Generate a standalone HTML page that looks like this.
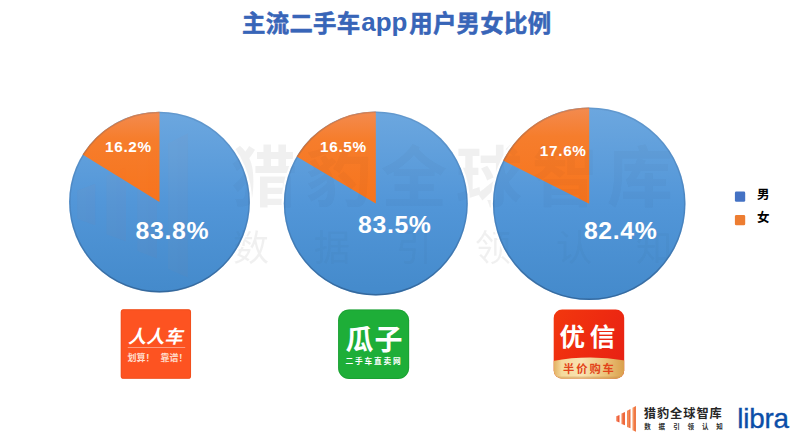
<!DOCTYPE html>
<html lang="zh"><head><meta charset="utf-8"><title>主流二手车app用户男女比例</title>
<style>
html,body{margin:0;padding:0;background:#fff}
body{width:800px;height:435px;position:relative;overflow:hidden;font-family:"Liberation Sans",sans-serif}
.pct{position:absolute;color:#fff;font-weight:bold;line-height:1;white-space:nowrap}
.app{position:absolute;left:361.3px;top:9px;font-size:26px;line-height:1;font-weight:bold;color:#3865B8;letter-spacing:-0.1px}
.libra{position:absolute;left:737.3px;top:405.2px;font-size:27.8px;line-height:1;color:#0B4EA8;letter-spacing:-0.2px;-webkit-text-stroke:0.35px #0B4EA8}
.sr{position:absolute;width:1px;height:1px;overflow:hidden;clip:rect(0 0 0 0);white-space:nowrap;color:transparent;font-size:1px}
svg text{font-family:"Liberation Sans","Noto Sans CJK SC",sans-serif}
</style></head><body>
<svg width="800" height="435" viewBox="0 0 800 435" style="position:absolute;left:0;top:0"><defs><linearGradient id="bp1" gradientUnits="userSpaceOnUse" x1="0" y1="111.7" x2="0" y2="292.5"><stop offset="0" stop-color="#6CA7DF"/><stop offset="0.5" stop-color="#5296D8"/><stop offset="1" stop-color="#448ACB"/></linearGradient><linearGradient id="op1" gradientUnits="userSpaceOnUse" x1="0" y1="111.7" x2="0" y2="202.1"><stop offset="0" stop-color="#F38B50"/><stop offset="0.3" stop-color="#F67D2C"/><stop offset="1" stop-color="#F7741C"/></linearGradient><linearGradient id="rgp1" gradientUnits="userSpaceOnUse" x1="0" y1="111.7" x2="0" y2="292.5"><stop offset="0" stop-color="#2f4f78" stop-opacity="0.16"/><stop offset="0.6" stop-color="#2f4f78" stop-opacity="0.24"/><stop offset="1" stop-color="#23466f" stop-opacity="0.5"/></linearGradient><linearGradient id="bp2" gradientUnits="userSpaceOnUse" x1="0" y1="111.4" x2="0" y2="295.4"><stop offset="0" stop-color="#6CA7DF"/><stop offset="0.5" stop-color="#5296D8"/><stop offset="1" stop-color="#448ACB"/></linearGradient><linearGradient id="op2" gradientUnits="userSpaceOnUse" x1="0" y1="111.4" x2="0" y2="203.4"><stop offset="0" stop-color="#F38B50"/><stop offset="0.3" stop-color="#F67D2C"/><stop offset="1" stop-color="#F7741C"/></linearGradient><linearGradient id="rgp2" gradientUnits="userSpaceOnUse" x1="0" y1="111.4" x2="0" y2="295.4"><stop offset="0" stop-color="#2f4f78" stop-opacity="0.16"/><stop offset="0.6" stop-color="#2f4f78" stop-opacity="0.24"/><stop offset="1" stop-color="#23466f" stop-opacity="0.5"/></linearGradient><linearGradient id="bp3" gradientUnits="userSpaceOnUse" x1="0" y1="107.5" x2="0" y2="300.1"><stop offset="0" stop-color="#6CA7DF"/><stop offset="0.5" stop-color="#5296D8"/><stop offset="1" stop-color="#448ACB"/></linearGradient><linearGradient id="op3" gradientUnits="userSpaceOnUse" x1="0" y1="107.5" x2="0" y2="203.8"><stop offset="0" stop-color="#F38B50"/><stop offset="0.3" stop-color="#F67D2C"/><stop offset="1" stop-color="#F7741C"/></linearGradient><linearGradient id="rgp3" gradientUnits="userSpaceOnUse" x1="0" y1="107.5" x2="0" y2="300.1"><stop offset="0" stop-color="#2f4f78" stop-opacity="0.16"/><stop offset="0.6" stop-color="#2f4f78" stop-opacity="0.24"/><stop offset="1" stop-color="#23466f" stop-opacity="0.5"/></linearGradient><filter id="hb" x="-5%" y="-5%" width="110%" height="110%"><feGaussianBlur stdDeviation="0.7"/></filter><linearGradient id="bar0" x1="0" y1="0" x2="1" y2="0"><stop offset="0" stop-color="#F2764C"/><stop offset="0.45" stop-color="#F2764C"/><stop offset="0.55" stop-color="#EE5C3A"/><stop offset="1" stop-color="#EE5C3A"/></linearGradient><linearGradient id="bar1" x1="0" y1="0" x2="1" y2="0"><stop offset="0" stop-color="#F38050"/><stop offset="0.45" stop-color="#F38050"/><stop offset="0.55" stop-color="#EE683E"/><stop offset="1" stop-color="#EE683E"/></linearGradient><linearGradient id="bar2" x1="0" y1="0" x2="1" y2="0"><stop offset="0" stop-color="#F48A56"/><stop offset="0.45" stop-color="#F48A56"/><stop offset="0.55" stop-color="#EF7042"/><stop offset="1" stop-color="#EF7042"/></linearGradient><linearGradient id="bar3" x1="0" y1="0" x2="1" y2="0"><stop offset="0" stop-color="#F59660"/><stop offset="0.45" stop-color="#F59660"/><stop offset="0.55" stop-color="#F07846"/><stop offset="1" stop-color="#F07846"/></linearGradient><g id="wmt"><text x="231 306 381 456 532 607" y="201" font-size="66" font-weight="bold" fill="#262626">猎豹全球智库</text><text x="233 314 396 475 556 636" y="261" font-size="36" fill="#2c2c2c">数据引领认知</text></g><clipPath id="pc"><circle cx="159.5" cy="202.1" r="90.4"/><circle cx="375.8" cy="203.4" r="92"/><circle cx="589.2" cy="203.8" r="96.3"/></clipPath><linearGradient id="yx" x1="0" y1="0" x2="1" y2="0.6"><stop offset="0" stop-color="#F2380E"/><stop offset="0.55" stop-color="#EE2B10"/><stop offset="1" stop-color="#E82214"/></linearGradient><linearGradient id="gold" x1="0" y1="0" x2="1" y2="0"><stop offset="0" stop-color="#E0AC5C"/><stop offset="0.12" stop-color="#F5D99C"/><stop offset="0.4" stop-color="#F8E3B2"/><stop offset="0.72" stop-color="#ECC47C"/><stop offset="1" stop-color="#D99E4A"/></linearGradient><clipPath id="yxc"><rect x="553.7" y="309.6" width="70.5" height="69.2" rx="8.5"/></clipPath><g id="brand"><g id="bbars"><path d="M616.3 416.2L619.5 415L619.5 422.4L616.3 421.3Z" fill="url(#bar0)"/><path d="M621.5 413.6L625 412L625 425.3L621.5 424Z" fill="url(#bar1)"/><path d="M627 410.8L630.5 409L630.5 428.3L627 427Z" fill="url(#bar2)"/><path d="M632.5 407.8L636 406L636 431.7L632.5 430.2Z" fill="url(#bar3)"/></g><g id="btext"><text x="643.8 656.9 670 683.2 696.5 709.6" y="418.4" font-size="12.2" font-weight="bold" fill="#262626">猎豹全球智库</text><text x="644.2 658.6 673.3 687.4 701.9 716.2" y="429.1" font-size="6.5" font-weight="bold" fill="#2c2c2c">数据引领认知</text></g></g></defs><g transform="translate(-3380.16 -2144.38) scale(5.61)"><use href="#bbars" opacity="0.045"/></g><use href="#wmt" opacity="0.062"/><circle cx="159.5" cy="202.1" r="92.6" fill="#fff" filter="url(#hb)"/><circle cx="375.8" cy="203.4" r="94.2" fill="#fff" filter="url(#hb)"/><circle cx="589.2" cy="203.8" r="98.5" fill="#fff" filter="url(#hb)"/><circle cx="159.5" cy="202.1" r="90.4" fill="url(#bp1)"/><path d="M159.5 202.1L82.57 154.62A90.4 90.4 0 0 1 159.5 111.7Z" fill="url(#op1)"/><circle cx="375.8" cy="203.4" r="92" fill="url(#bp2)"/><path d="M375.8 203.4L296.61 156.57A92 92 0 0 1 375.8 111.4Z" fill="url(#op2)"/><circle cx="589.2" cy="203.8" r="96.3" fill="url(#bp3)"/><path d="M589.2 203.8L503.12 160.62A96.3 96.3 0 0 1 589.2 107.5Z" fill="url(#op3)"/><g clip-path="url(#pc)"><g transform="translate(-3380.16 -2144.38) scale(5.61)"><use href="#bbars" opacity="0.03"/></g><use href="#wmt" opacity="0.028"/></g><circle cx="159.5" cy="202.1" r="89.65" fill="none" stroke="url(#rgp1)" stroke-width="1.5"/><circle cx="375.8" cy="203.4" r="91.25" fill="none" stroke="url(#rgp2)" stroke-width="1.5"/><circle cx="589.2" cy="203.8" r="95.55" fill="none" stroke="url(#rgp3)" stroke-width="1.5"/><g fill="#3865B8" stroke="#3865B8" stroke-width="0.55" stroke-linejoin="round"><text x="242" y="32" font-size="23.4" font-weight="bold" letter-spacing="0.3">主流二手车</text><text x="409.2" y="32" font-size="23.4" font-weight="bold" letter-spacing="0.3">用户男女比例</text></g><rect x="734.9" y="191.5" width="10.3" height="10.3" rx="1.4" fill="#4472C4"/><rect x="734.9" y="215" width="10.3" height="10.3" rx="1.4" fill="#ED7D31"/><text x="757" y="199.4" font-size="12.5" font-weight="bold" fill="#000">男</text><text x="757" y="221.7" font-size="12.5" font-weight="bold" fill="#000">女</text><rect x="120.8" y="309.3" width="70.2" height="69.5" rx="2.6" fill="#FD5321"/><rect x="121.2" y="309.7" width="69.4" height="68.7" rx="2.3" fill="none" stroke="#E04A18" stroke-opacity="0.55" stroke-width="0.8"/><text x="128" y="343" font-size="18" font-weight="bold" font-style="italic" fill="#fff" letter-spacing="0.2">人人车</text><rect x="127.8" y="347.1" width="57.4" height="0.7" fill="#fff" opacity="0.6"/><text x="127.4" y="360.7" font-size="9" font-weight="bold" fill="#FFDCCB">划算！</text><text x="160.6" y="360.7" font-size="9" font-weight="bold" fill="#FFDCCB">靠谱！</text><rect x="338.1" y="309.5" width="71" height="69.4" rx="11" fill="#1EAE38"/><rect x="338.5" y="309.9" width="70.2" height="68.6" rx="10.6" fill="none" stroke="#168A2A" stroke-opacity="0.45" stroke-width="0.8"/><text x="345.5" y="350" font-size="28" font-weight="bold" fill="#fff" letter-spacing="1">瓜子</text><text x="345.5" y="364" font-size="7.7" font-weight="bold" fill="#fff" letter-spacing="1.8">二手车直卖网</text><g clip-path="url(#yxc)"><rect x="553" y="309" width="72" height="71" fill="url(#yx)"/><path d="M553 361Q588 354.4 625 360.4V380H553Z" fill="url(#gold)"/><rect x="553" y="376.6" width="72" height="2.4" fill="#C98F45" opacity="0.45"/></g><text x="559.5" y="346" font-size="25.5" font-weight="bold" fill="#fff" letter-spacing="4.8">优信</text><text x="563" y="373.3" font-size="11.3" font-weight="bold" fill="#E2441A" letter-spacing="1.9">半价购车</text><use href="#brand"/></svg>
<div class="app">app</div>
<div class="pct" style="left:105px;top:138.85px;font-size:15.3px;letter-spacing:0.7px">16.2%</div><div class="pct" style="left:135.6px;top:218.71px;font-size:24.8px;letter-spacing:0.65px">83.8%</div><div class="pct" style="left:320px;top:138.85px;font-size:15.3px;letter-spacing:0.7px">16.5%</div><div class="pct" style="left:358px;top:212.81px;font-size:24.8px;letter-spacing:0.65px">83.5%</div><div class="pct" style="left:539.8px;top:143.15px;font-size:15.3px;letter-spacing:0.7px">17.6%</div><div class="pct" style="left:583.9px;top:218.81px;font-size:24.8px;letter-spacing:0.65px">82.4%</div>
<div class="libra">libra</div>
<div class="sr">主流二手车app用户男女比例 男 女 人人车 划算！靠谱！ 瓜子 二手车直卖网 优信 半价购车 猎豹全球智库 数据引领认知</div>
</body></html>
